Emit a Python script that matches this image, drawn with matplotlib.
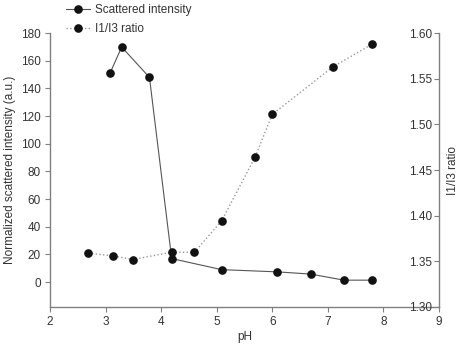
import matplotlib
matplotlib.use("Agg")
import matplotlib.pyplot as plt

plt.rcParams['font.family'] = ['Liberation Sans', 'DejaVu Sans']
plt.rcParams['font.size'] = 8.5

# scattered intensity (left axis)
ph_int = [3.08, 3.29, 3.79, 4.19, 5.09, 6.09, 6.69, 7.29, 7.80]
intensity = [151, 170, 148, 17, 9, 7.4, 5.8, 1.4, 1.4]

# I1/I3 ratio (right axis)
ph_ratio = [2.69, 3.13, 3.49, 4.19, 4.60, 5.09, 5.69, 6.0, 7.09, 7.80]
ratio = [1.359, 1.356, 1.352, 1.360, 1.360, 1.3945, 1.464, 1.511, 1.563, 1.588]

left_ticks = list(range(0, 181, 20))
right_ticks = [1.30, 1.35, 1.40, 1.45, 1.50, 1.55, 1.60]
x_ticks = [2, 3, 4, 5, 6, 7, 8, 9]

spine_col = '#808080'
text_col = '#333333'

fig = plt.figure(figsize=(4.63, 3.44), dpi=100)
ax = fig.add_axes([0.108, 0.1076, 0.840, 0.796])
ax2 = ax.twinx()

l1, = ax.plot(ph_int, intensity, '-', color='#555555', lw=0.8,
              marker='o', ms=5.2, mfc='#111111', mec='#111111', zorder=3)
l2, = ax2.plot(ph_ratio, ratio, ':', color='#999999', lw=1.0,
               marker='o', ms=5.2, mfc='#111111', mec='#111111', zorder=3)

ax.set_xlim(2, 9)
ax.set_ylim(-18, 180)
ax2.set_ylim(1.30, 1.60)
ax.set_xticks(x_ticks)
ax.set_yticks(left_ticks)
ax2.set_yticks(right_ticks)
ax2.set_yticklabels([f'{v:.2f}' for v in right_ticks])

for a in (ax, ax2):
    a.spines['top'].set_visible(False)
    for s in a.spines.values():
        s.set_color(spine_col)
        s.set_linewidth(1.0)
ax.spines['right'].set_visible(False)
ax2.spines['left'].set_visible(False)
ax2.spines['bottom'].set_visible(False)

ax.tick_params(axis='both', direction='out', length=3.5, color=spine_col,
               labelcolor=text_col, pad=3)
ax2.tick_params(axis='y', direction='in', length=3.5, color=spine_col,
                labelcolor=text_col, pad=-5)
for lbl in ax2.get_yticklabels():
    lbl.set_horizontalalignment('right')

ax.set_xlabel('pH', color=text_col, labelpad=2)
ax.set_ylabel('Normalized scattered intensity (a.u.)', color=text_col, labelpad=4)
ax2.set_ylabel('I1/I3 ratio', color=text_col, labelpad=6)

fig.legend([l1, l2], ['Scattered intensity', 'I1/I3 ratio'],
           loc='upper left', bbox_to_anchor=(0.12, 1.02), frameon=False,
           handlelength=2.0, handletextpad=0.4, labelspacing=0.65,
           labelcolor=text_col)

fig.savefig('out.png', dpi=100)
